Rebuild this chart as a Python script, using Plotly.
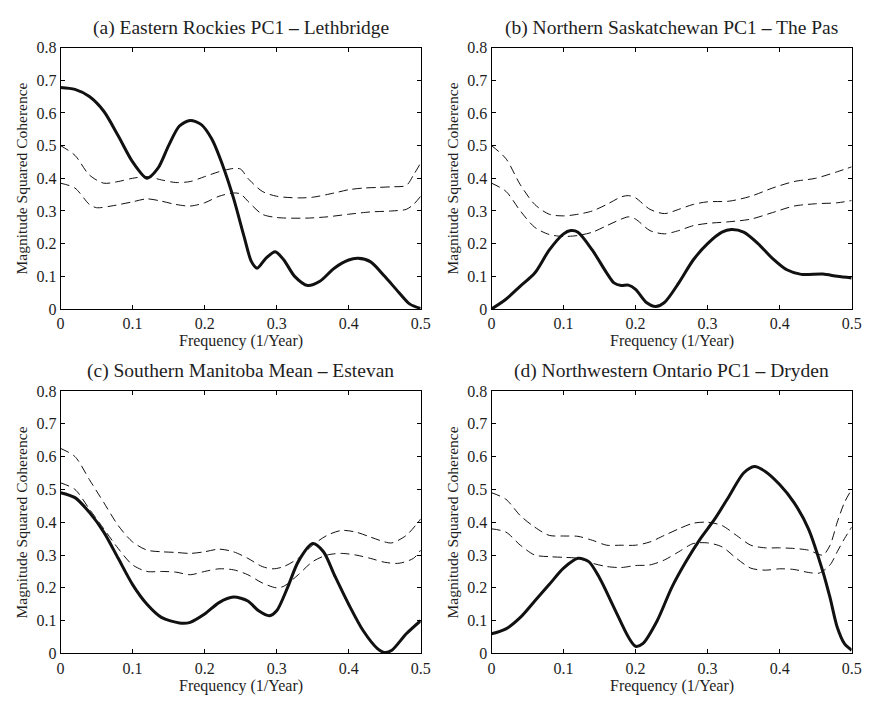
import plotly.graph_objects as go

# ---------------- data ----------------
xa = [0.00, 0.02, 0.04, 0.06, 0.08, 0.10, 0.12, 0.135, 0.15, 0.165, 0.18, 0.195, 0.21, 0.225, 0.24, 0.255,
      0.265, 0.273, 0.285, 0.298, 0.31, 0.325, 0.343, 0.36, 0.38, 0.40, 0.413, 0.43, 0.45, 0.47, 0.485, 0.50]
ya = [0.678, 0.672, 0.650, 0.605, 0.530, 0.450, 0.400, 0.430, 0.500, 0.560, 0.577, 0.565, 0.520, 0.440, 0.340, 0.220,
      0.145, 0.125, 0.155, 0.175, 0.150, 0.100, 0.072, 0.085, 0.125, 0.150, 0.155, 0.145, 0.100, 0.050, 0.015, 0.002]
xa_hi = [0.00, 0.02, 0.04, 0.06, 0.08, 0.10, 0.12, 0.14, 0.16, 0.18, 0.20, 0.22, 0.24, 0.25, 0.26, 0.28, 0.30,
         0.33, 0.35, 0.38, 0.40, 0.42, 0.44, 0.46, 0.48, 0.49, 0.50]
ya_hi = [0.50, 0.47, 0.41, 0.385, 0.39, 0.40, 0.405, 0.395, 0.387, 0.39, 0.405, 0.42, 0.43, 0.428, 0.40, 0.36, 0.345,
         0.34, 0.342, 0.355, 0.365, 0.37, 0.372, 0.374, 0.378, 0.41, 0.447]
xa_lo = [0.00, 0.02, 0.04, 0.05, 0.07, 0.10, 0.12, 0.14, 0.16, 0.18, 0.20, 0.22, 0.24, 0.25, 0.26, 0.28, 0.30,
         0.34, 0.37, 0.40, 0.43, 0.46, 0.48, 0.49, 0.50]
ya_lo = [0.385, 0.37, 0.32, 0.31, 0.315, 0.328, 0.337, 0.33, 0.32, 0.315, 0.325, 0.345, 0.355, 0.352, 0.33, 0.29,
         0.28, 0.278, 0.282, 0.29, 0.297, 0.30, 0.305, 0.32, 0.345]

xb = [0.00, 0.02, 0.04, 0.06, 0.08, 0.10, 0.11, 0.12, 0.14, 0.16, 0.17, 0.18, 0.19, 0.20, 0.215, 0.228, 0.24,
      0.26, 0.28, 0.30, 0.32, 0.333, 0.35, 0.37, 0.39, 0.41, 0.43, 0.46, 0.48, 0.50]
yb = [0.00, 0.03, 0.07, 0.11, 0.18, 0.23, 0.24, 0.235, 0.18, 0.11, 0.08, 0.072, 0.073, 0.06, 0.02, 0.008, 0.02,
      0.08, 0.15, 0.20, 0.235, 0.243, 0.235, 0.20, 0.155, 0.12, 0.106, 0.107, 0.10, 0.095]
xb_hi = [0.00, 0.02, 0.04, 0.06, 0.08, 0.10, 0.12, 0.14, 0.16, 0.18, 0.19, 0.20, 0.22, 0.24, 0.26, 0.28, 0.30,
         0.33, 0.36, 0.39, 0.42, 0.45, 0.48, 0.50]
yb_hi = [0.50, 0.46, 0.38, 0.32, 0.29, 0.285, 0.29, 0.30, 0.32, 0.343, 0.347, 0.34, 0.305, 0.292, 0.305, 0.32,
         0.328, 0.33, 0.345, 0.37, 0.39, 0.40, 0.42, 0.435]
xb_lo = [0.00, 0.02, 0.04, 0.06, 0.08, 0.10, 0.12, 0.14, 0.16, 0.18, 0.19, 0.20, 0.22, 0.24, 0.26, 0.28, 0.30,
         0.33, 0.36, 0.39, 0.42, 0.45, 0.48, 0.50]
yb_lo = [0.385, 0.36, 0.30, 0.25, 0.228, 0.222, 0.225, 0.235, 0.255, 0.275, 0.282, 0.275, 0.24, 0.23, 0.24,
         0.255, 0.262, 0.267, 0.275, 0.295, 0.315, 0.322, 0.325, 0.332]

xc = [0.00, 0.02, 0.04, 0.06, 0.08, 0.10, 0.12, 0.14, 0.165, 0.18, 0.20, 0.22, 0.24, 0.26, 0.275, 0.29, 0.30,
      0.315, 0.33, 0.35, 0.365, 0.38, 0.40, 0.42, 0.44, 0.45, 0.46, 0.48, 0.50]
yc = [0.49, 0.475, 0.43, 0.37, 0.29, 0.21, 0.15, 0.11, 0.093, 0.095, 0.12, 0.155, 0.172, 0.16, 0.13, 0.115, 0.13,
      0.20, 0.28, 0.335, 0.31, 0.24, 0.15, 0.07, 0.015, 0.003, 0.01, 0.06, 0.10]
xc_hi = [0.00, 0.02, 0.04, 0.06, 0.08, 0.10, 0.12, 0.14, 0.16, 0.18, 0.20, 0.22, 0.24, 0.26, 0.28, 0.295, 0.31,
         0.33, 0.35, 0.37, 0.39, 0.41, 0.43, 0.45, 0.46, 0.48, 0.50]
yc_hi = [0.625, 0.60, 0.53, 0.46, 0.39, 0.34, 0.315, 0.31, 0.308, 0.305, 0.31, 0.318, 0.31, 0.29, 0.265, 0.258,
         0.265, 0.29, 0.33, 0.36, 0.375, 0.37, 0.355, 0.34, 0.337, 0.36, 0.41]
xc_lo = [0.00, 0.02, 0.04, 0.06, 0.08, 0.10, 0.12, 0.14, 0.16, 0.18, 0.20, 0.22, 0.24, 0.26, 0.28, 0.30, 0.31,
         0.33, 0.35, 0.37, 0.39, 0.41, 0.43, 0.45, 0.47, 0.49, 0.50]
yc_lo = [0.52, 0.50, 0.44, 0.38, 0.32, 0.27, 0.25, 0.25, 0.248, 0.24, 0.25, 0.258, 0.255, 0.24, 0.215, 0.20,
         0.205, 0.24, 0.28, 0.30, 0.305, 0.30, 0.29, 0.278, 0.275, 0.29, 0.315]

xd = [0.00, 0.02, 0.04, 0.06, 0.08, 0.10, 0.12, 0.135, 0.15, 0.17, 0.19, 0.20, 0.21, 0.23, 0.25, 0.27, 0.29,
      0.31, 0.33, 0.35, 0.365, 0.38, 0.40, 0.42, 0.44, 0.46, 0.47, 0.48, 0.49, 0.50]
yd = [0.06, 0.075, 0.11, 0.16, 0.21, 0.26, 0.29, 0.28, 0.23, 0.14, 0.05, 0.022, 0.03, 0.10, 0.20, 0.28, 0.35,
      0.41, 0.48, 0.55, 0.57, 0.555, 0.515, 0.46, 0.38, 0.25, 0.17, 0.08, 0.03, 0.01]
xd_hi = [0.00, 0.02, 0.04, 0.06, 0.08, 0.10, 0.12, 0.14, 0.16, 0.18, 0.20, 0.22, 0.24, 0.26, 0.28, 0.30, 0.32,
         0.34, 0.36, 0.38, 0.40, 0.42, 0.44, 0.46, 0.47, 0.48, 0.49, 0.50]
yd_hi = [0.49, 0.47, 0.42, 0.385, 0.36, 0.358, 0.357, 0.345, 0.33, 0.33, 0.33, 0.34, 0.36, 0.38, 0.397, 0.40,
         0.39, 0.36, 0.33, 0.322, 0.322, 0.32, 0.315, 0.30, 0.33, 0.40, 0.46, 0.50]
xd_lo = [0.00, 0.02, 0.04, 0.06, 0.08, 0.10, 0.12, 0.14, 0.16, 0.18, 0.20, 0.22, 0.24, 0.26, 0.28, 0.30, 0.32,
         0.34, 0.36, 0.38, 0.40, 0.42, 0.44, 0.455, 0.47, 0.48, 0.49, 0.50]
yd_lo = [0.38, 0.37, 0.33, 0.30, 0.295, 0.293, 0.29, 0.275, 0.265, 0.262, 0.268, 0.27, 0.285, 0.31, 0.335, 0.337,
         0.325, 0.29, 0.26, 0.254, 0.258, 0.256, 0.247, 0.245, 0.27, 0.31, 0.35, 0.385]

titles = ["(a) Eastern Rockies PC1 <b>–</b> Lethbridge",
          "(b) Northern Saskatchewan PC1 <b>–</b> The Pas",
          "(c) Southern Manitoba Mean <b>–</b> Estevan",
          "(d) Northwestern Ontario PC1 <b>–</b> Dryden"]
x_title = "Frequency (1/Year)"
y_title = "Magnitude Squared Coherence"
x_ticks = [0, 0.1, 0.2, 0.3, 0.4, 0.5]
x_ticktext = ["0", "0.1", "0.2", "0.3", "0.4", "0.5"]
y_ticks = [0, 0.1, 0.2, 0.3, 0.4, 0.5, 0.6, 0.7, 0.8]
y_ticktext = ["0", "0.1", "0.2", "0.3", "0.4", "0.5", "0.6", "0.7", "0.8"]

panels = [
    (xa, ya, xa_hi, ya_hi, xa_lo, ya_lo),
    (xb, yb, xb_hi, yb_hi, xb_lo, yb_lo),
    (xc, yc, xc_hi, yc_hi, xc_lo, yc_lo),
    (xd, yd, xd_hi, yd_hi, xd_lo, yd_lo),
]

# ---------------- layout ----------------
W, H = 871, 702
FONT = "Liberation Serif, Times New Roman, serif"
TXT = "#1e1e1e"
xdoms = [(57.5 / W, 423.5 / W), (495.5 / W, 861.5 / W)]
ydoms = [(1 - 308.5 / H, 1 - 40.5 / H), (1 - 661.5 / H, 1 - 392.5 / H)]

fig = go.Figure()
annotations = []
for i, (x, y, xh, yh, xl, yl) in enumerate(panels):
    r, c = divmod(i, 2)
    n = "" if i == 0 else str(i + 1)
    xref, yref = "x" + n, "y" + n
    for xx, yy, dash, w in [(xh, yh, "9px,5px", 1), (xl, yl, "9px,5px", 1), (x, y, "solid", 3)]:
        fig.add_trace(go.Scatter(x=xx, y=yy, mode="lines", xaxis=xref, yaxis=yref,
                                 line=dict(color="#111111", width=w, dash=dash, shape="spline", smoothing=0.8),
                                 showlegend=False, hoverinfo="skip"))
    axcommon = dict(showgrid=False, zeroline=False, showline=True, linecolor="black", linewidth=1,
                    mirror="allticks", ticks="inside", ticklen=4, tickcolor="black",
                    tickfont=dict(family=FONT, size=16, color=TXT))
    fig.layout["xaxis" + n] = dict(domain=xdoms[c], range=[0, 0.5], anchor=yref,
                                   tickvals=x_ticks, ticktext=x_ticktext, **axcommon)
    fig.layout["yaxis" + n] = dict(domain=ydoms[r], range=[0, 0.8], anchor=xref,
                                   tickvals=y_ticks, ticktext=y_ticktext, **axcommon)
    xc_mid = (xdoms[c][0] + xdoms[c][1]) / 2
    annotations.append(dict(text=titles[i], x=xc_mid, y=ydoms[r][1] + 20 / H, xref="paper", yref="paper",
                            xanchor="center", yanchor="middle", showarrow=False,
                            font=dict(family=FONT, size=19.5, color=TXT)))
    annotations.append(dict(text=x_title, x=xc_mid, y=ydoms[r][0] - 33 / H, xref="paper", yref="paper",
                            xanchor="center", yanchor="middle", showarrow=False,
                            font=dict(family=FONT, size=16, color=TXT)))
    annotations.append(dict(text=y_title, x=xdoms[c][0] - 40 / W,
                            y=(ydoms[r][0] + ydoms[r][1]) / 2, xref="paper", yref="paper",
                            xanchor="center", yanchor="middle", showarrow=False, textangle=-90,
                            font=dict(family=FONT, size=15.5, color=TXT)))

fig.update_layout(width=W, height=H, margin=dict(l=0, r=0, t=0, b=0),
                  paper_bgcolor="white", plot_bgcolor="white", annotations=annotations)
fig.write_html("out.html", config={"displayModeBar": False},
               post_script="document.body.style.margin='0';document.body.style.overflow='hidden';")
